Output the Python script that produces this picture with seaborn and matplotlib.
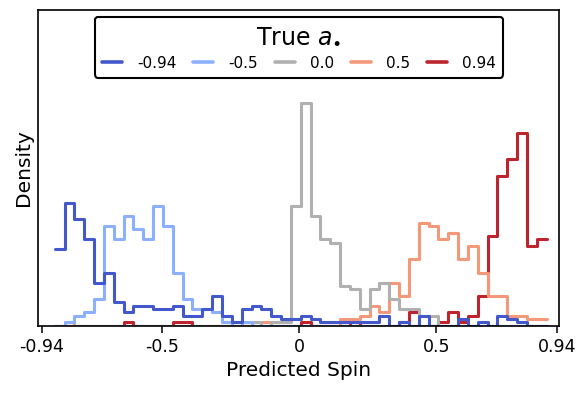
import numpy as np
import pandas as pd
import matplotlib
matplotlib.use("Agg")
import matplotlib.pyplot as plt
import seaborn as sns

# ---------------- data ----------------
series_labels = ["-0.94", "-0.5", "0.0", "0.5", "0.94"]
series_values = [-0.94, -0.5, 0.0, 0.5, 0.94]

bin_lo = -0.892
bin_hi = 0.903
n_bins = 50

counts_m094 = [23, 37, 32, 26, 13, 16, 7, 4, 6, 6,
               5, 5, 6, 3, 3, 5, 9, 3, 1, 5,
               6, 5, 3, 2, 2, 3, 2, 1, 1, 1,
               1, 1, 1, 3, 0, 1, 0, 3, 0, 0,
               0, 2, 0, 1, 0, 3, 2, 1, 0, 0]
counts_m05 = [0, 1, 3, 4, 8, 30, 26, 33, 29, 26,
              36, 30, 16, 8, 5, 5, 4, 1, 0, 1,
              0, 0, 0, 0, 0, 0, 0, 0, 0, 0,
              0, 0, 0, 0, 0, 0, 0, 0, 0, 0,
              0, 0, 0, 0, 0, 0, 0, 0, 0, 0]
counts_00 = [0, 0, 0, 0, 0, 0, 0, 0, 0, 0,
             0, 0, 0, 0, 0, 0, 0, 0, 1, 0,
             1, 0, 1, 1, 36, 67, 33, 26, 25, 12,
             11, 5, 11, 13, 8, 5, 5, 3, 3, 0,
             0, 0, 0, 0, 0, 0, 0, 0, 0, 0]
counts_05 = [0, 1, 0, 0, 0, 0, 0, 0, 0, 0,
             0, 0, 0, 0, 0, 0, 0, 0, 0, 0,
             0, 1, 0, 0, 0, 0, 0, 0, 0, 2,
             2, 3, 6, 4, 13, 9, 20, 31, 30, 26,
             28, 20, 24, 16, 9, 9, 3, 3, 2, 2]
counts_094 = [0, 0, 0, 0, 0, 0, 0, 1, 0, 0,
              0, 0, 1, 1, 0, 0, 0, 0, 0, 0,
              0, 0, 0, 0, 0, 1, 0, 0, 0, 0,
              1, 0, 0, 0, 0, 1, 4, 0, 0, 1,
              4, 1, 3, 9, 27, 45, 50, 58, 24, 26]

tick_values = [-0.94, -0.5, 0, 0.5, 0.94]
tick_labels = ["-0.94", "-0.5", "0", "0.5", "0.94"]

# ---------------- build table ----------------
edges = np.linspace(bin_lo, bin_hi, n_bins + 1)
centers = (edges[:-1] + edges[1:]) / 2
all_counts = [counts_m094, counts_m05, counts_00, counts_05, counts_094]
frames = []
for lab, c in zip(series_labels, all_counts):
    frames.append(pd.DataFrame({"spin": centers, "w": c, "True": lab}))
df = pd.concat(frames, ignore_index=True)

cw = matplotlib.colormaps["coolwarm"]
palette = {}
for lab, v in zip(series_labels, series_values):
    palette[lab] = "#b0b0b0" if v == 0 else cw((v + 1) / 2)

sns.set_style("ticks")
plt.rcParams["font.family"] = ["DejaVu Sans"]
plt.rcParams["text.color"] = "black"
plt.rcParams["axes.labelcolor"] = "black"
plt.rcParams["xtick.color"] = "black"
plt.rcParams["ytick.color"] = "black"

fig = plt.figure(figsize=(5.79, 3.94), dpi=100)
ax = fig.add_axes([38.3 / 579, (394 - 325.8) / 394, (559.3 - 38.3) / 579, (325.8 - 9.5) / 394])

sns.histplot(data=df, x="spin", weights="w", hue="True", hue_order=series_labels,
             bins=list(edges), element="step", fill=False, stat="count",
             palette=palette, linewidth=2.2, ax=ax, legend=True)

ax.set_xlim(-0.952, 0.949)
ax.set_ylim(0, 95)
ax.set_yticks([])
ax.set_xticks(tick_values)
ax.set_xticklabels(tick_labels, fontsize=12.5, color="black")
ax.set_xlabel("Predicted Spin", fontsize=14.5, color="black")
ax.set_ylabel("Density", fontsize=14.5, color="black")
ax.tick_params(axis="x", direction="out", length=5, width=1.1, color="black")
for s in ax.spines.values():
    s.set_visible(True)
    s.set_color("black")
    s.set_linewidth(1.2)

sns.move_legend(ax, "upper center", bbox_to_anchor=(0.5, 1.0), ncol=5,
                title="True $a_{\\bullet}$", title_fontsize=17, fontsize=11,
                frameon=True, handlelength=1.3, handletextpad=1.0,
                columnspacing=1.1, borderaxespad=0.5, borderpad=0.45,
                labelspacing=0.5, fancybox=True)
leg = ax.get_legend()
leg.get_frame().set_edgecolor("black")
leg.get_frame().set_linewidth(1.5)
leg.get_frame().set_alpha(1)
for h in leg.legend_handles:
    h.set_linewidth(2.6)
for t in leg.get_texts():
    t.set_color("black")
leg.get_title().set_color("black")

fig.savefig("out.png", dpi=100)
